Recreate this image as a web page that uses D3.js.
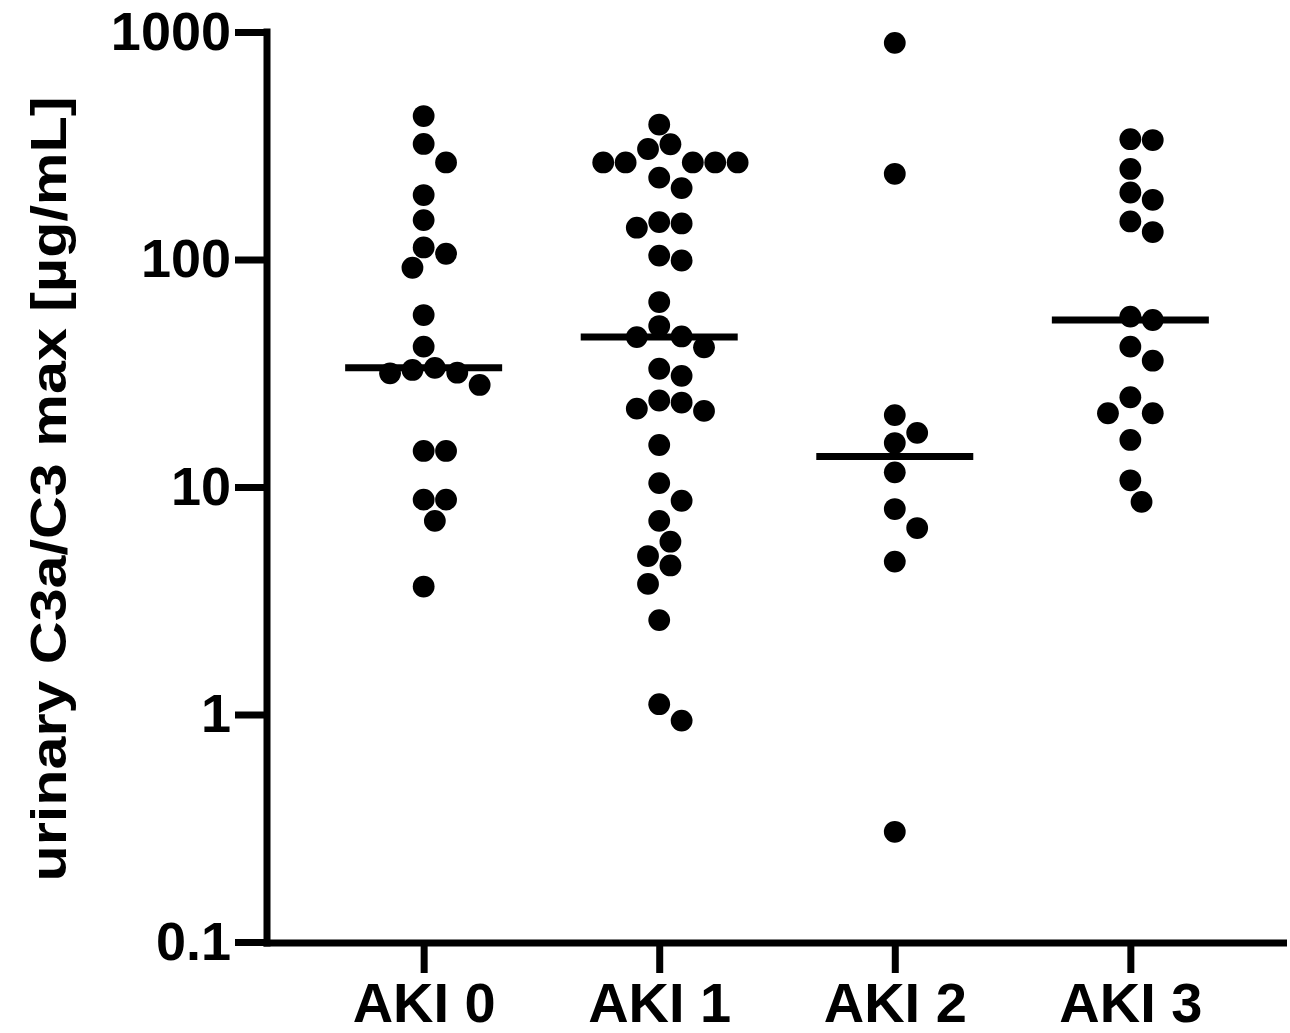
<!DOCTYPE html>
<html>
<head>
<meta charset="utf-8">
<script src="https://cdn.jsdelivr.net/npm/d3@7"></script>
<style>
    body { margin: 0; background: #fff; }
    text { font-family: "Liberation Sans", Arial, sans-serif; font-weight: bold; fill: #000; }
</style>
</head>
<body>
<div id="chart"></div>
<script>
// Data (urinary C3a/C3 max per AKI stage)
var categories = ["AKI 0", "AKI 1", "AKI 2", "AKI 3"];

var aki0 = [427, 322, 267, 192, 149, 113, 106, 92, 57, 41.4, 33.4, 32.7, 31.8, 31.6, 28.1,
    14.4, 14.4, 8.8, 8.8, 7.1, 3.65];
var aki1 = [392, 321, 306, 267, 267, 267, 267, 267, 229, 206, 146, 144, 138, 104, 99, 65, 51,
    45.9, 45.6, 41.1, 33.1, 30.8, 24.0, 23.5, 22.1, 21.6, 15.3, 10.4, 8.7, 7.1, 5.75, 4.97,
    4.52, 3.75, 2.6, 1.11, 0.94];
var aki2 = [896, 238, 20.7, 17.3, 15.6, 11.6, 8.0, 6.6, 4.7, 0.305];
var aki3 = [338, 335, 250, 197, 183, 147, 132, 56.1, 54.2, 41.4, 35.9, 24.8, 21.1, 21.1,
    16.1, 10.7, 8.6];

var yTicks = [0.1, 1, 10, 100, 1000];
var yTickLabels = ["0.1", "1", "10", "100", "1000"];
var yLabel = "urinary C3a/C3 max [\u00b5g/mL]";

var groups = [aki0, aki1, aki2, aki3];

// Step 1: chart area
var svgWidth = 1290;
var svgHeight = 1033;
var axisX = 267;
var axisY = 943;
var dotRadius = 10.9;

var svg = d3.select("#chart")
    .append("svg")
    .attr("width", svgWidth)
    .attr("height", svgHeight);

// Step 2: scales
var yScale = d3.scaleLog()
    .domain([0.1, 1000])
    .range([942, 32]);

var xScale = d3.scalePoint()
    .domain(categories)
    .range([axisX, 1287])
    .padding(0.665);

// Step 3: axes (domain lines drawn by hand so the corner is square)
var leftAxis = d3.axisLeft(yScale)
    .tickValues(yTicks)
    .tickFormat((d, i) => yTickLabels[i])
    .tickSize(32)
    .tickPadding(4);

var bottomAxis = d3.axisBottom(xScale)
    .tickSize(30)
    .tickPadding(10);

var yAxisG = svg.append("g")
    .attr("transform", `translate(${axisX}, 0)`)
    .call(leftAxis);

var xAxisG = svg.append("g")
    .attr("transform", `translate(0, ${axisY})`)
    .call(bottomAxis);

[yAxisG, xAxisG].forEach(function (g) {
    g.select(".domain").remove();
    g.selectAll(".tick line")
        .attr("stroke", "#000")
        .attr("stroke-width", 7);
    g.selectAll(".tick text")
        .attr("font-family", "Liberation Sans, Arial, sans-serif")
        .attr("font-weight", "bold")
        .attr("fill", "#000");
});
yAxisG.selectAll(".tick text").attr("font-size", 54);
xAxisG.selectAll(".tick text")
    .attr("font-size", 55)
    .attr("textLength", 143)
    .attr("lengthAdjust", "spacingAndGlyphs");

svg.append("line")
    .attr("x1", axisX).attr("x2", axisX)
    .attr("y1", yScale(1000) - 3.5).attr("y2", axisY + 3.5)
    .attr("stroke", "#000")
    .attr("stroke-width", 7);

svg.append("line")
    .attr("x1", axisX - 3.5).attr("x2", 1287)
    .attr("y1", axisY).attr("y2", axisY)
    .attr("stroke", "#000")
    .attr("stroke-width", 7);

// y axis title
svg.append("text")
    .attr("transform", "rotate(-90)")
    .attr("x", -489)
    .attr("y", 66)
    .attr("text-anchor", "middle")
    .attr("font-size", 50)
    .attr("textLength", 785)
    .attr("lengthAdjust", "spacingAndGlyphs")
    .text(yLabel);

// Step 4: simple beeswarm so that the dots do not overlap
function swarm(values, cx) {
    var placed = [];
    var step = 11.2;
    var minDist = 2 * dotRadius + 0.6;
    values.slice().sort((a, b) => b - a).forEach(function (v) {
        var y = yScale(v);
        for (var k = 0; k < 60; k++) {
            var off = (k % 2 === 1 ? 1 : -1) * Math.ceil(k / 2) * step;
            var x = cx + off;
            var free = placed.every(p => Math.hypot(p.x - x, p.y - y) >= minDist - 0.01);
            if (free) {
                placed.push({ x: x, y: y, value: v });
                break;
            }
        }
    });
    return placed;
}

var dotsGroup = svg.append("g").attr("class", "dots");

groups.forEach(function (values, i) {
    var cx = xScale(categories[i]);
    var pts = swarm(values, cx);

    dotsGroup.append("g")
        .selectAll("circle")
        .data(pts)
        .enter()
        .append("circle")
        .attr("cx", d => d.x)
        .attr("cy", d => d.y)
        .attr("r", dotRadius)
        .attr("fill", "#000");

    // median line
    var med = d3.median(values);
    svg.append("line")
        .attr("x1", cx - 78.5)
        .attr("x2", cx + 78.5)
        .attr("y1", yScale(med))
        .attr("y2", yScale(med))
        .attr("stroke", "#000")
        .attr("stroke-width", 7);
});
</script>
</body>
</html>
